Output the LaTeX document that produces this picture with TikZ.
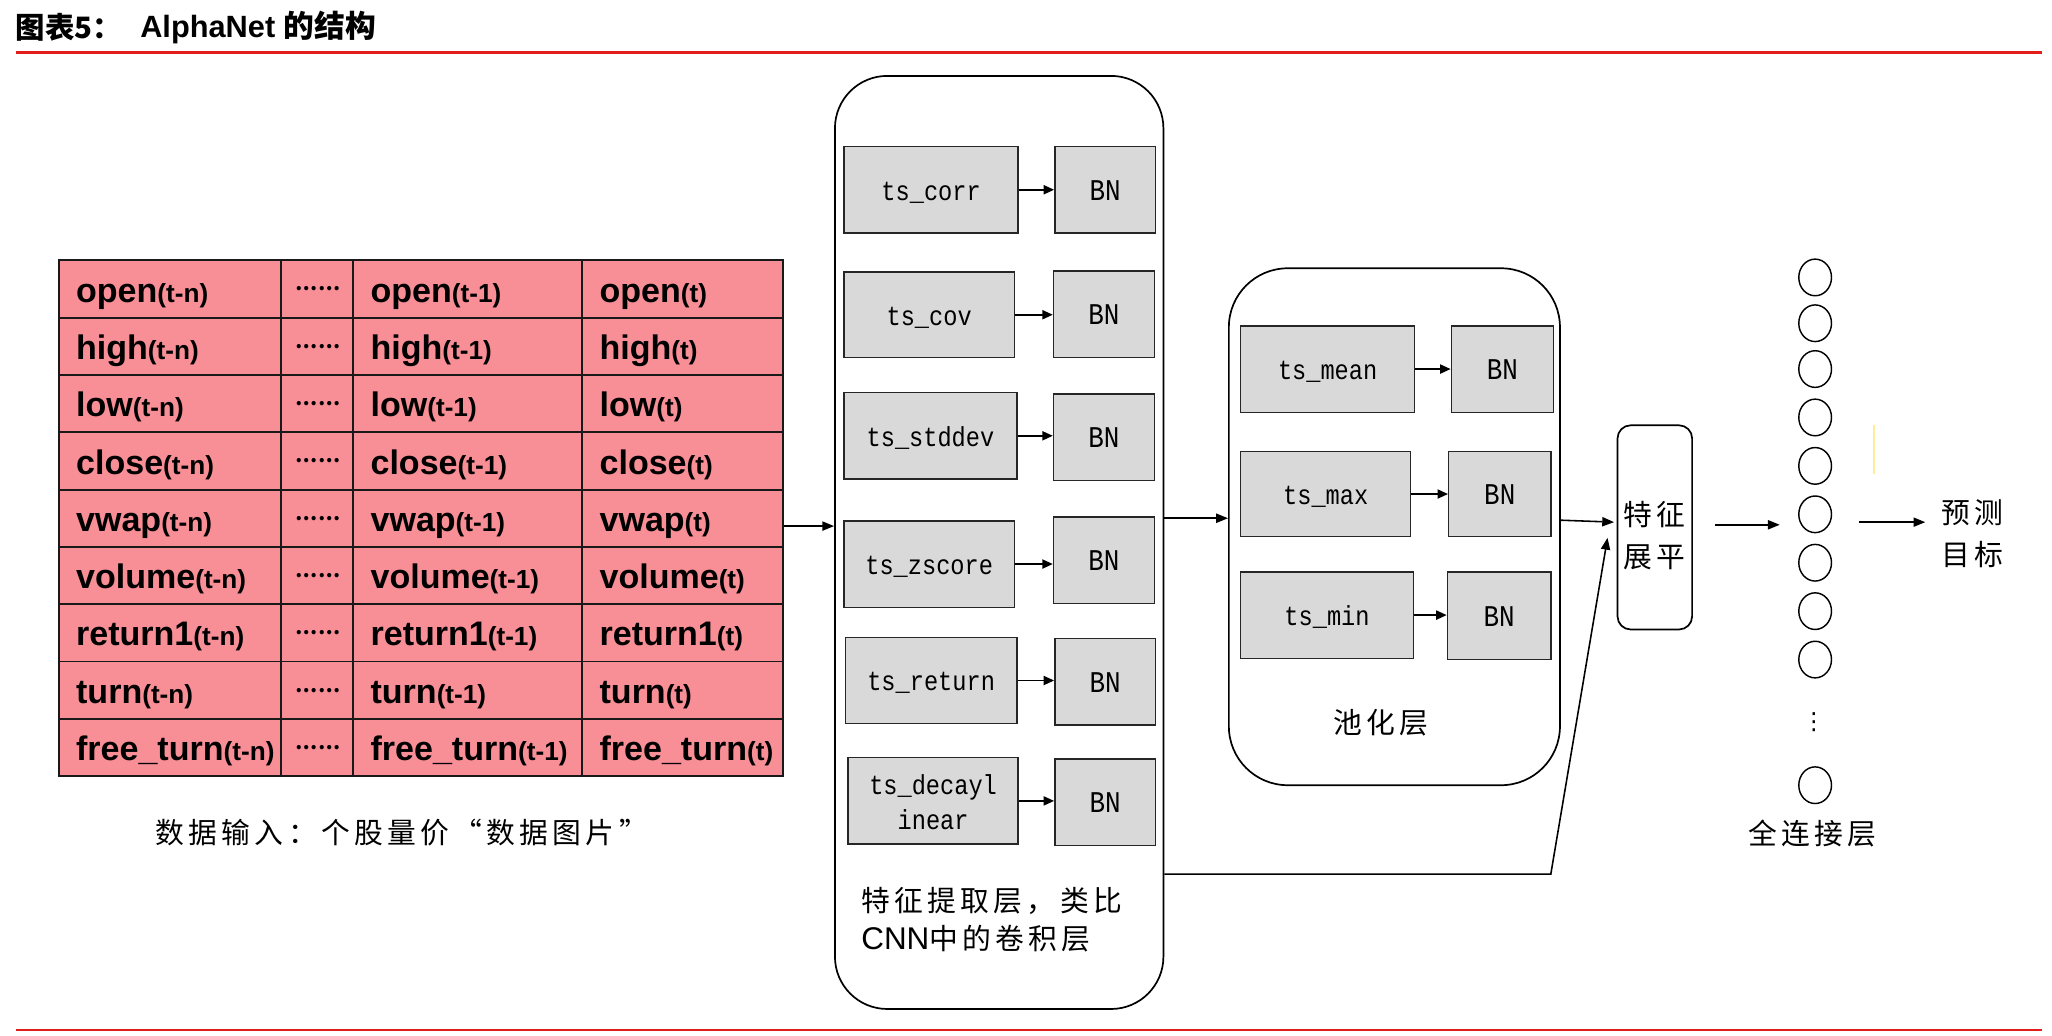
\documentclass[tikz,border=0pt]{standalone}
\usepackage{fontspec}
\setmainfont{Liberation Sans}
\newfontfamily\cjk{Noto Sans CJK SC}
\newfontfamily\cjkls{Noto Sans CJK SC}[LetterSpace=15]
\newfontfamily\mono{Liberation Mono}[FakeStretch=0.86]
\newfontfamily\djv{DejaVu Sans}
\usetikzlibrary{arrows.meta,shapes.geometric}
\definecolor{tpink}{RGB}{248,142,150}
\definecolor{tred}{RGB}{225,30,25}
\definecolor{gfill}{RGB}{217,217,217}
\definecolor{ylw}{RGB}{255,238,150}
\newcommand\tsub[1]{{\fontsize{20}{22}\selectfont #1}}
\begin{document}
\begin{tikzpicture}[x=1pt,y=-1pt,
  arr/.style={-{Triangle[length=9pt,width=7pt]}, line width=1.2pt},
  sarr/.style={-{Triangle[length=8pt,width=7pt]}, line width=1.2pt},
  gbox/.style={draw=black!85, fill=gfill, line width=1.1pt, inner sep=0, align=center,
     text height=18pt, text depth=2pt,
     font=\mono\fontsize{21}{27}\selectfont},
  bnbox/.style={gbox, minimum width=77, minimum height=66, font=\mono\fontsize{23}{24}\selectfont},
  layer/.style={draw, line width=1.3pt, inner sep=0},
  tcell/.style={anchor=base west, inner sep=0, font=\bfseries\fontsize{26}{30}\selectfont},
  dotcell/.style={inner sep=0, font=\cjk\bfseries\fontsize{15}{15}\selectfont},
  cjklab/.style={inner sep=0, align=center, font=\cjkls\fontsize{22}{32}\selectfont},
  neuron/.style={draw, ellipse, line width=1.1pt, minimum width=25, minimum height=28, inner sep=0}
]
\useasboundingbox (0,0) rectangle (1568,791.6);

% title
\node[anchor=west, inner sep=0, font=\cjk\bfseries\fontsize{22.5}{24}\selectfont] (t1) at (12,21) {图表5：};
\node[anchor=west, inner sep=0, font=\bfseries\fontsize{23.5}{24}\selectfont] (t2) at (107,21) {AlphaNet {\cjk 的结构}};
\draw[tred, line width=2pt] (12,40) -- (1560,40);
\draw[tred, line width=2pt] (12,787) -- (1560,787);

% table
\node[draw=black!90, fill=tpink, line width=1.5pt, minimum width=553, minimum height=394, inner sep=0] (tbl) at (321.5,396) {};
\foreach \x in {215,270,445} \draw[black!90, line width=1.5pt] (\x,199) -- (\x,593);
\foreach \k in {1,...,8} \draw[black!90, line width=1.5pt] (45,199+43.78*\k) -- (598,199+43.78*\k);
\foreach \lab [count=\i from 0] in {open,high,low,close,vwap,volume,return1,turn,free\_turn} {
  \pgfmathsetmacro\yc{199+43.78*(\i+0.5)}
  \pgfmathsetmacro\yb{\yc+10}
  \node[tcell] (a\i) at (58,\yb) {\lab\tsub{(t-n)}};
  \node[dotcell] (d\i) at (243,\yc) {……};
  \node[tcell] (b\i) at (283,\yb) {\lab\tsub{(t-1)}};
  \node[tcell] (c\i) at (458,\yb) {\lab\tsub{(t)}};
}
\node[inner sep=0, font=\cjkls\fontsize{22}{26}\selectfont] (cap) at (307,636) {数据输入：个股量价“数据图片”};

% feature extraction layer
\node[layer, rounded corners=40pt, minimum width=251, minimum height=713] (feat) at (763.5,414.5) {};
\node[gbox, minimum width=133, minimum height=66] (corr) at (711.5,145) {ts\_corr};
\node[bnbox] (bn1) at (844.5,145) {BN};
\node[gbox, minimum width=130, minimum height=65] (cov) at (710,240.5) {ts\_cov};
\node[bnbox] (bn2) at (843.5,240) {BN};
\node[gbox, minimum width=132, minimum height=66] (std) at (711,333) {ts\_stddev};
\node[bnbox] (bn3) at (843.5,334) {BN};
\node[gbox, minimum width=130, minimum height=66] (zs) at (710,431) {ts\_zscore};
\node[bnbox] (bn4) at (843.5,428) {BN};
\node[gbox, minimum width=131, minimum height=66] (ret) at (711.5,520) {ts\_return};
\node[bnbox] (bn5) at (844.5,521) {BN};
\node[gbox, minimum width=130, minimum height=66, text height=45pt, text depth=1pt] (dec) at (713,612) {ts\_decayl\\inear};
\node[bnbox] (bn6) at (844.5,613) {BN};
\foreach \a/\b in {corr/bn1,cov/bn2,std/bn3,zs/bn4,ret/bn5,dec/bn6}
  \draw[sarr] (\a.east) -- (\a.east -| \b.west);
\node[anchor=west, align=left, inner sep=0, font=\cjkls\fontsize{22}{29}\selectfont] (featlab) at (658,703) {特征提取层，类比\\{\rmfamily\fontsize{24}{29}\selectfont CNN}中的卷积层};

% pooling layer
\node[layer, rounded corners=45pt, minimum width=253, minimum height=395] (pool) at (1065.5,402.5) {};
\node[gbox, minimum width=133, minimum height=66] (mean) at (1014.5,282) {ts\_mean};
\node[bnbox, minimum width=78] (bn7) at (1148,282) {BN};
\node[gbox, minimum width=130, minimum height=65] (max) at (1013,377.5) {ts\_max};
\node[bnbox, minimum width=78, minimum height=65] (bn8) at (1146,377.5) {BN};
\node[gbox, minimum width=132, minimum height=66] (min) at (1014,470) {ts\_min};
\node[bnbox, minimum width=79, minimum height=67] (bn9) at (1145.5,470.5) {BN};
\foreach \a/\b in {mean/bn7,max/bn8,min/bn9}
  \draw[sarr] (\a.east) -- (\a.east -| \b.west);
\node[cjklab] (poollab) at (1055,552) {池化层};

% flatten
\node[layer, rounded corners=10pt, minimum width=57, minimum height=156] (flat) at (1264.5,403) {};
\node[cjklab] (flatlab) at (1264,409) {特征\\展平};

% fully connected
\foreach \yy [count=\j] in {212,247,282,319,356,393,430,467,504,600}
  \node[neuron] (n\j) at (1387,\yy) {};
\node[inner sep=0, font=\djv\fontsize{18}{20}\selectfont] (vdots) at (1386,552) {⋮};
\node[cjklab] (fclab) at (1385,637) {全连接层};
\node[cjklab] (tgt) at (1507,408) {预测\\目标};
\draw[ylw, line width=1pt] (1432,325) -- (1432,362);

% connectors
\draw[arr] ([yshift=-6pt]tbl.east) -- ([yshift=12.5pt]feat.west);
\draw[arr] ([yshift=18.5pt]feat.east) -- ([yshift=6.5pt]pool.west);
\draw[arr] ([yshift=5pt]pool.east) -- ([xshift=-2pt,yshift=4pt]flat.west);
\coordinate (bend) at (1185,668);
\draw[arr] ([yshift=-253.5pt]feat.east) -- (bend) -- ([xshift=-7pt,yshift=-8pt]flat.west);
\draw[arr] ([xshift=17pt,yshift=2pt]flat.east) -- ([xshift=-14pt,yshift=-8pt]n6.west);
\draw[arr] ([xshift=20.5pt,yshift=-6pt]n6.east) -- ([xshift=-12pt,yshift=9pt]tgt.west);
\end{tikzpicture}
\end{document}
